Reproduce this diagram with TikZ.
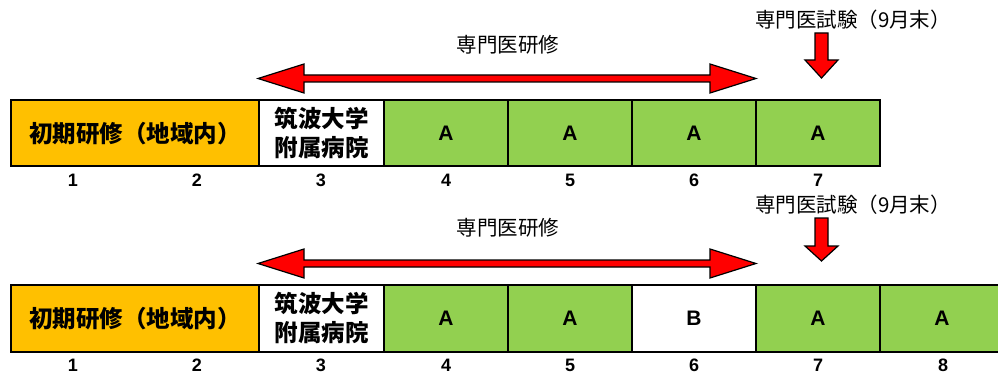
\documentclass[tikz,border=0pt]{standalone}
\usepackage{fontspec}
\setmainfont{Liberation Sans}
\newfontfamily\jp{Noto Sans CJK JP}
\definecolor{orng}{HTML}{FFC000}
\definecolor{grn}{HTML}{92D050}
\definecolor{arrred}{HTML}{FF0000}
\tikzset{
  cell/.style={draw=black, line width=2pt, minimum height=66.5pt, inner sep=0pt, align=center},
  cellA/.style={cell, fill=grn, font=\fontsize{21}{23}\selectfont\bfseries},
  num/.style={inner sep=0pt, font=\fontsize{18}{20}\selectfont\bfseries},
  jpbold/.style={font=\jp\bfseries\fontsize{23.5}{29}\selectfont},
  lbl/.style={inner sep=0pt, font=\jp\fontsize{20.5}{22}\selectfont},
  redarrow/.style={fill=arrred, draw=black, line width=1.2pt, line join=miter},
}
\begin{document}
\begin{tikzpicture}[x=1pt,y=-1pt]
\useasboundingbox (0,0) rectangle (998,374);
\clip (0,0) rectangle (998,374);

% ---------- row 1 ----------
\node[lbl] (t1) at (508,45) {専門医研修};
\node[lbl] (e1) at (853,20) {専門医試験（9月末）};
\draw[redarrow] (258,78.5) -- (304,64) -- (304,75) -- (710,75) -- (710,64) -- (756,78.5)
  -- (710,93) -- (710,82) -- (304,82) -- (304,93) -- cycle;
\draw[redarrow] (815,33) -- (828,33) -- (828,60) -- (838,60) -- (821.5,78) -- (805,60) -- (815,60) -- cycle;

\node[cell, fill=orng, minimum width=248pt, jpbold] (c11) at (135,133.25) {初期研修（地域内）};
\node[cell, fill=white, minimum width=125pt, jpbold] (c13) at (321.5,133.25) {筑波大学\\附属病院};
\node[cellA, minimum width=124pt] (c14) at (446,133.25) {A};
\node[cellA, minimum width=124pt] (c15) at (570,133.25) {A};
\node[cellA, minimum width=124pt] (c16) at (694,133.25) {A};
\node[cellA, minimum width=124pt] (c17) at (818,133.25) {A};

\foreach \i/\x in {1/73,2/197,3/321,4/446,5/570,6/694,7/818}
  \node[num] (n1\i) at (\x,180) {\i};

% ---------- row 2 ----------
\node[lbl] (t2) at (508,228) {専門医研修};
\node[lbl] (e2) at (853,205) {専門医試験（9月末）};
\draw[redarrow] (258,263.5) -- (304,249) -- (304,260) -- (710,260) -- (710,249) -- (756,263.5)
  -- (710,278) -- (710,267) -- (304,267) -- (304,278) -- cycle;
\draw[redarrow] (815,218) -- (828,218) -- (828,246) -- (838,246) -- (821.5,261) -- (805,246) -- (815,246) -- cycle;

\node[cell, fill=orng, minimum width=248pt, jpbold] (c21) at (135,318.25) {初期研修（地域内）};
\node[cell, fill=white, minimum width=125pt, jpbold] (c23) at (321.5,318.25) {筑波大学\\附属病院};
\node[cellA, minimum width=124pt] (c24) at (446,318.25) {A};
\node[cellA, minimum width=124pt] (c25) at (570,318.25) {A};
\node[cellA, minimum width=124pt, fill=white] (c26) at (694,318.25) {B};
\node[cellA, minimum width=124pt] (c27) at (818,318.25) {A};
\node[cellA, minimum width=124pt] (c28) at (942,318.25) {A};

\foreach \i/\x in {1/73,2/197,3/321,4/446,5/570,6/694,7/818,8/943}
  \node[num] (n2\i) at (\x,365) {\i};
\end{tikzpicture}
\end{document}
